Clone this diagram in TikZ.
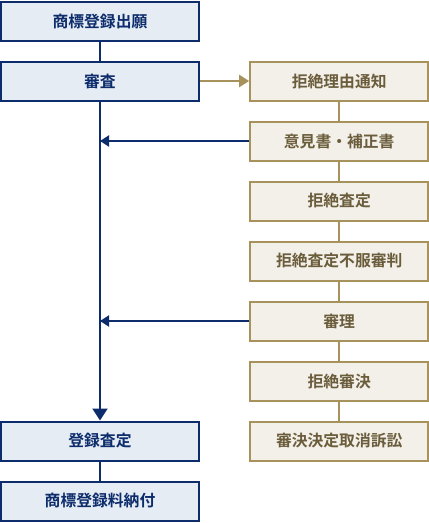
\documentclass[tikz,border=0pt]{standalone}
\usepackage{fontspec}
\newfontfamily\jp{Noto Sans CJK JP}[BoldFont={Noto Sans CJK JP Bold}]
\usetikzlibrary{arrows.meta}
\definecolor{navy}{HTML}{0D2C6C}
\definecolor{bluefill}{HTML}{E5ECF4}
\definecolor{gold}{HTML}{A6925A}
\definecolor{beige}{HTML}{F3F0E9}
\definecolor{goldtext}{HTML}{6B5D3C}
\begin{document}
\begin{tikzpicture}[x=1pt,y=-1pt,
  leftbox/.style={draw=navy,fill=bluefill,line width=2pt,minimum width=198pt,minimum height=39pt,inner sep=0pt,text=navy,font=\jp\bfseries\fontsize{15.8}{17}\selectfont},
  rightbox/.style={draw=gold,fill=beige,line width=2pt,minimum width=178pt,minimum height=39pt,inner sep=0pt,text=goldtext,font=\jp\bfseries\fontsize{15.8}{17}\selectfont},
  navyline/.style={draw=navy,line width=2pt},
  goldline/.style={draw=gold,line width=2pt},
  navyarrow/.style={navyline,-{Triangle[length=9pt,width=11pt]}},
  downarrow/.style={navyline,-{Triangle[length=12pt,width=15pt]}},
  goldarrow/.style={goldline,-{Triangle[length=10pt,width=12pt]}}]
\useasboundingbox (0,0) rectangle (429,523);
\node[leftbox] (l1) at (100,21) {商標登録出願};
\node[leftbox] (l2) at (100,81) {審査};
\node[leftbox] (l3) at (100,441) {登録査定};
\node[leftbox] (l4) at (100,501) {商標登録料納付};
\node[rightbox] (r1) at (339.2,81) {拒絶理由通知};
\node[rightbox] (r2) at (339.2,141) {意見書・補正書};
\node[rightbox] (r3) at (339.2,201) {拒絶査定};
\node[rightbox] (r4) at (339.2,261) {拒絶査定不服審判};
\node[rightbox] (r5) at (339.2,321) {審理};
\node[rightbox] (r6) at (339.2,381) {拒絶審決};
\node[rightbox] (r7) at (339.2,441) {審決決定取消訴訟};
\coordinate (j1) at (l2.south |- r2.west);
\coordinate (j2) at (l2.south |- r5.west);
\draw[navyline] (l1) -- (l2);
\draw[downarrow] (l2) -- (l3);
\draw[navyline] (l3) -- (l4);
\draw[goldline] (r1) -- (r2);
\draw[goldline] (r2) -- (r3);
\draw[goldline] (r3) -- (r4);
\draw[goldline] (r4) -- (r5);
\draw[goldline] (r5) -- (r6);
\draw[goldline] (r6) -- (r7);
\draw[goldarrow] (l2) -- (r1);
\draw[navyarrow] (r2) -- (j1);
\draw[navyarrow] (r5) -- (j2);
\end{tikzpicture}
\end{document}
